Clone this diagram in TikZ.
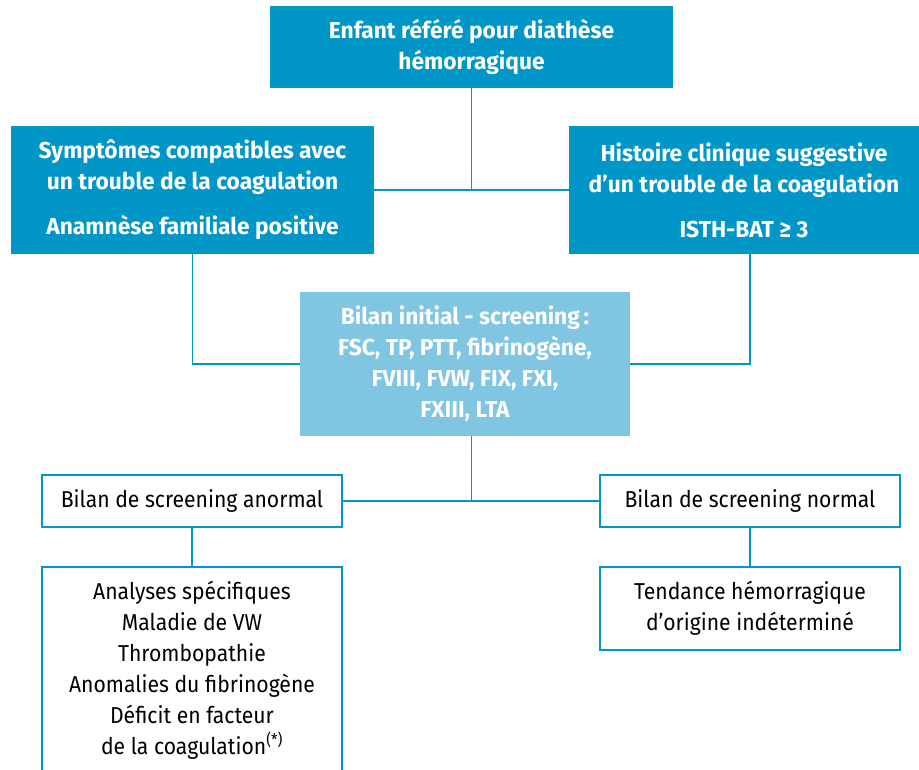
\documentclass[tikz,border=0pt]{standalone}
\usepackage{fontspec}
\setmainfont{Fira Sans}[FakeStretch=0.92]
\newfontfamily\grasfont{Fira Sans}[FakeStretch=0.99]
\usetikzlibrary{positioning}
\definecolor{bleufonce}{RGB}{0,150,200}
\definecolor{bleuclair}{RGB}{128,197,226}

\begin{document}
\begin{tikzpicture}[x=1pt,y=-1pt,
		lien/.style={draw=bleufonce,line width=1.5pt},
		titre/.style={fill=bleufonce,text=white,font=\grasfont\bfseries\fontsize{23}{31}\selectfont,align=center,inner sep=0pt},
		bilan/.style={titre,fill=bleuclair},
		cadre/.style={draw=bleufonce,line width=1.5pt,fill=white,font=\fontsize{23}{31}\selectfont,align=center,inner sep=0pt,minimum width=300pt}]
		\clip (0,0) rectangle (919,769);
		\node[titre,minimum width=403pt,minimum height=82pt] (ENFANT) at (471.5,47) {Enfant référé pour diathèse\\hémorragique};
		\node[titre,minimum width=363pt,minimum height=128pt] (SYMPT) at (192.5,190) {Symptômes compatibles avec\\un trouble de la coagulation\\[14pt]Anamnèse familiale positive};
		\node[titre,minimum width=350pt,minimum height=128pt] (HIST) at (744,190) {Histoire clinique suggestive\\d’un trouble de la coagulation\\[14pt]ISTH-BAT ≥ 3};
		\node[bilan,minimum width=330pt,minimum height=144pt] (BILAN) at (465,364) {Bilan initial - screening\,:\\FSC, TP, PTT, fibrinogène,\\FVIII, FVW, FIX, FXI,\\FXIII, LTA};
		\node[cadre,minimum height=52pt] (ANORMAL) at (192,501) {Bilan de screening anormal};
		\node[cadre,minimum height=52pt] (NORMAL) at (750,501) {Bilan de screening normal};
		\node[cadre,minimum height=206pt] (ANALYSES) at (192,670) {Analyses spécifiques\\Maladie de VW\\Thrombopathie\\Anomalies du fibrinogène\\Déficit en facteur\\de la coagulation\textsuperscript{(*)}};
		\node[cadre,minimum height=83pt] (TENDANCE) at (750,608.5) {Tendance hémorragique\\d’origine indéterminé};
		% liaisons
		\draw[lien] (ENFANT.south) -- (ENFANT.south |- SYMPT.east);
		\draw[lien] (SYMPT.east) -- (HIST.west);
		\draw[lien] (SYMPT.south) |- (BILAN.west);
		\draw[lien] (BILAN.east) -| (NORMAL.north |- HIST.south);
		\draw[lien] (ENFANT.south |- BILAN.south) -- (ENFANT.south |- ANORMAL.east);
		\draw[lien] (ANORMAL.east) -- (NORMAL.west);
		\draw[lien] (ANORMAL.south) -- (ANALYSES.north);
		\draw[lien] (NORMAL.south) -- (TENDANCE.north);
\end{tikzpicture}
\end{document}
